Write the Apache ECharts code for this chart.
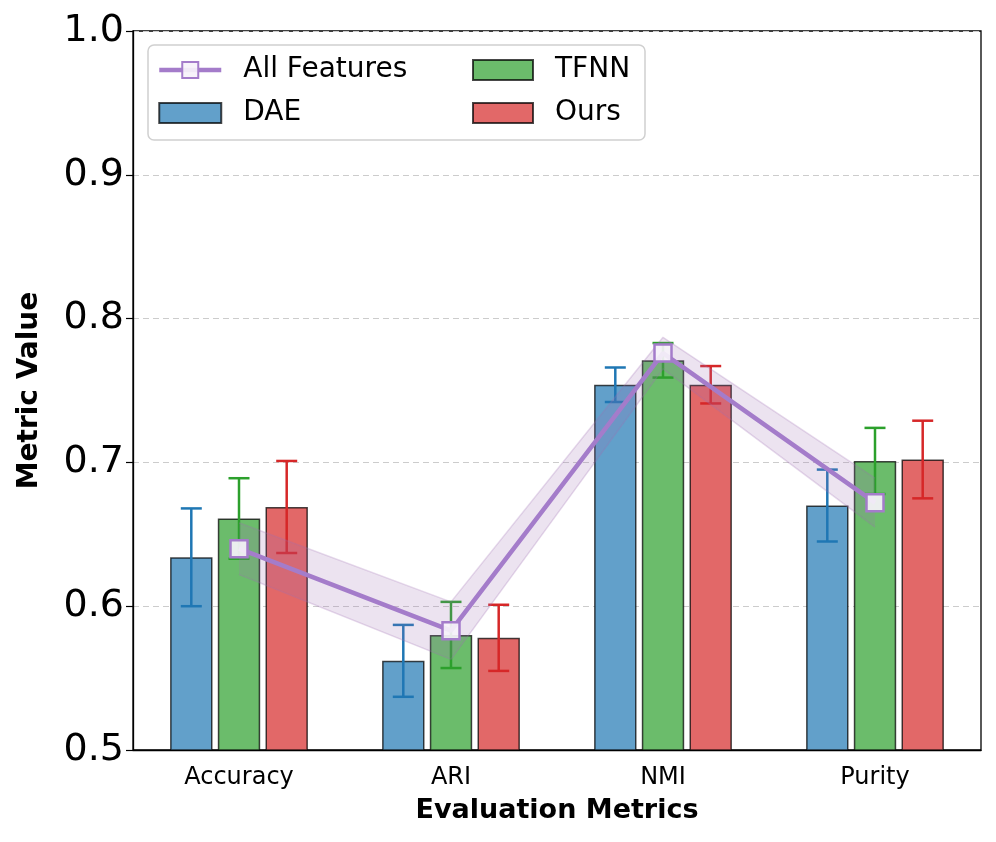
<!DOCTYPE html>
<html>
<head>
<meta charset="utf-8">
<script src="https://cdn.jsdelivr.net/npm/echarts@6/dist/echarts.min.js"></script>
<style>html,body{margin:0;padding:0;background:#fff;}#c{width:996px;height:842px;}</style>
</head>
<body>
<div id="c"></div>
<script>
const categories = ['Accuracy', 'ARI', 'NMI', 'Purity'];
const daeVals = [0.634, 0.562, 0.754, 0.670];
const daeErr = [0.034, 0.025, 0.012, 0.025];
const tfnnVals = [0.661, 0.580, 0.771, 0.701];
const tfnnErr = [0.028, 0.023, 0.012, 0.023];
const oursVals = [0.669, 0.578, 0.754, 0.702];
const oursErr = [0.032, 0.023, 0.013, 0.027];
const allVals = [0.640, 0.583, 0.776, 0.672];
const allStd = [0.018, 0.020, 0.011, 0.017];
const yTicks = [0.5, 0.6, 0.7, 0.8, 0.9, 1.0];

const FONT = 'DejaVu Sans';
const chart = echarts.init(document.getElementById('c'));

function errSeries(name, vals, errs, color, offsetFrac) {
  return {
    type: 'custom',
    name: name + ' err',
    z: 4,
    data: vals.map((v, i) => [i, v, errs[i]]),
    renderItem: function (params, api) {
      const i = api.value(0), v = api.value(1), e = api.value(2);
      const band = api.size([1, 0])[0];
      const top = api.coord([i, v + e]);
      const bot = api.coord([i, v - e]);
      const x = top[0] + band * offsetFrac;
      const hw = 10.5;
      const st = { stroke: color, lineWidth: 2.5 };
      return {
        type: 'group',
        children: [
          { type: 'line', shape: { x1: x, y1: top[1], x2: x, y2: bot[1] }, style: st },
          { type: 'line', shape: { x1: x - hw, y1: top[1], x2: x + hw, y2: top[1] }, style: st },
          { type: 'line', shape: { x1: x - hw, y1: bot[1], x2: x + hw, y2: bot[1] }, style: st }
        ]
      };
    }
  };
}

const barBase = {
  type: 'bar',
  barWidth: '20%',
  barGap: '12.5%',
  z: 2
};
const edge = { borderColor: 'rgba(0,0,0,0.72)', borderWidth: 1.5 };
const LINE_COLOR = 'rgb(164,124,202)';

const legendText = { fontFamily: FONT, fontSize: 28, color: '#000', lineHeight: 28, padding: [0, 0, 0, 17] };

const option = {
  animation: false,
  backgroundColor: '#fff',
  textStyle: { fontFamily: FONT },
  grid: { left: 133, right: 15, top: 31, bottom: 92, show: true, borderColor: '#000', borderWidth: 1.3, containLabel: false },
  xAxis: {
    type: 'category',
    data: categories,
    name: 'Evaluation Metrics',
    nameLocation: 'middle',
    nameGap: 47,
    nameTextStyle: { fontFamily: FONT, fontSize: 27, fontWeight: 'bold', color: '#000' },
    axisLine: { lineStyle: { color: '#000', width: 1.3 } },
    axisTick: { alignWithLabel: true, length: 7, lineStyle: { color: '#000', width: 1.2 } },
    axisLabel: { fontFamily: FONT, fontSize: 24, color: '#000', margin: 16 },
    splitLine: { show: false }
  },
  yAxis: {
    type: 'value',
    min: yTicks[0],
    max: yTicks[yTicks.length - 1],
    interval: 0.1,
    name: 'Metric Value',
    nameLocation: 'middle',
    nameGap: 89,
    nameTextStyle: { fontFamily: FONT, fontSize: 28, fontWeight: 'bold', color: '#000' },
    axisLine: { show: true, lineStyle: { color: '#000', width: 1.3 } },
    axisTick: { show: true, length: 7, lineStyle: { color: '#000', width: 1.2 } },
    axisLabel: { fontFamily: FONT, fontSize: 38, color: '#000', margin: 9, formatter: v => v.toFixed(1) },
    splitLine: { show: true, lineStyle: { color: '#cccccc', type: [6, 4], width: 1 } }
  },
  graphic: [{
    type: 'rect', z: 3, silent: true,
    shape: { x: 148, y: 45, width: 497, height: 95, r: 6 },
    style: { fill: 'rgba(255,255,255,0.85)', stroke: '#d0d0d0', lineWidth: 1.5 }
  }],
  legend: [{
    orient: 'vertical', left: 152, top: 51, z: 5,
    itemWidth: 62, itemHeight: 20, itemGap: 15,
    data: [
      { name: 'All Features', lineStyle: { width: 4.5, color: LINE_COLOR } },
      { name: 'DAE', icon: 'rect' }
    ],
    textStyle: legendText
  }, {
    orient: 'vertical', left: 467, top: 51, z: 5,
    itemWidth: 60, itemHeight: 20, itemGap: 15,
    data: [{ name: 'TFNN', icon: 'rect' }, { name: 'Ours', icon: 'rect' }],
    textStyle: legendText
  }],
  series: [
    Object.assign({}, barBase, { name: 'DAE', data: daeVals, itemStyle: Object.assign({ color: 'rgb(98,160,202)' }, edge) }),
    Object.assign({}, barBase, { name: 'TFNN', data: tfnnVals, itemStyle: Object.assign({ color: 'rgb(107,188,107)' }, edge) }),
    Object.assign({}, barBase, { name: 'Ours', data: oursVals, itemStyle: Object.assign({ color: 'rgb(226,104,104)' }, edge) }),
    errSeries('DAE', daeVals, daeErr, '#1f77b4', -0.225),
    errSeries('TFNN', tfnnVals, tfnnErr, '#2ca02c', 0),
    errSeries('Ours', oursVals, oursErr, '#d62728', 0.225),
    {
      type: 'line', name: 'bandLow', stack: 'band', z: 5, silent: true,
      data: allVals.map((v, i) => +(v - allStd[i]).toFixed(4)),
      symbol: 'none',
      lineStyle: { color: 'rgba(160,110,180,0.25)', width: 1.5 }
    },
    {
      type: 'line', name: 'bandHigh', stack: 'band', z: 5, silent: true,
      data: allStd.map(s => +(2 * s).toFixed(4)),
      symbol: 'none',
      lineStyle: { color: 'rgba(160,110,180,0.25)', width: 1.5 },
      areaStyle: { color: 'rgba(160,110,180,0.28)', origin: 'auto' }
    },
    {
      type: 'line', name: 'All Features', z: 6,
      data: allVals,
      symbol: 'rect', symbolSize: 17,
      lineStyle: { color: LINE_COLOR, width: 4.5 },
      itemStyle: { color: 'rgba(246,242,250,0.92)', borderColor: LINE_COLOR, borderWidth: 2.5 }
    }
  ]
};
chart.setOption(option);
</script>
</body>
</html>
